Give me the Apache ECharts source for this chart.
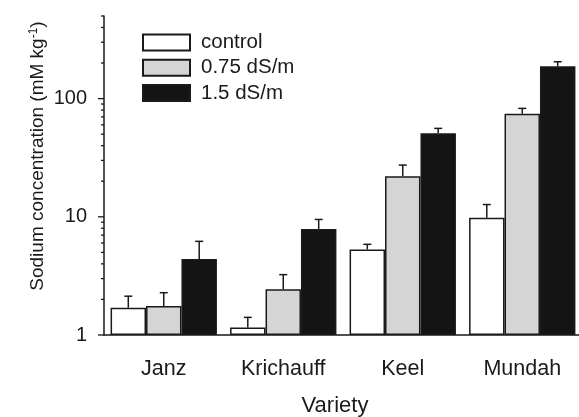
<!DOCTYPE html>
<html>
<head>
<meta charset="utf-8">
<script src="https://cdn.jsdelivr.net/npm/echarts@6/dist/echarts.min.js"></script>
<style>
html,body{margin:0;padding:0;background:#fff;}
#chart{width:579px;height:417px;}
</style>
</head>
<body>
<div id="chart"></div>
<script>
// 品种
var varieties = ['Janz', 'Krichauff', 'Keel', 'Mundah'];
var seriesNames = ['control', '0.75 dS/m', '1.5 dS/m'];
// 各处理的均值 (mM kg-1)
var controlValues = [1.70, 1.16, 5.3, 9.8];
var midValues     = [1.76, 2.44, 22, 74.6];
var highValues    = [4.4, 7.9, 51, 188];
// 误差(向上)
var controlErrors = [0.43, 0.25, 0.55, 2.9];
var midErrors     = [0.52, 0.80, 5.4, 8.1];
var highErrors    = [1.8, 1.6, 5, 17];
// 纵轴刻度
var yMajorTicks = [1, 10, 100];
var yMinorTicks = [2, 3, 4, 5, 6, 7, 8, 9, 20, 30, 40, 50, 60, 70, 80, 90, 200, 300, 400, 500];

var FONT = 'Liberation Sans';
var INK = '#1a1a1a';
var colors = ['#ffffff', '#d5d5d5', '#141414'];
var catGap = 0.11;   //!< barCategoryGap

var chart = echarts.init(document.getElementById('chart'), null, {renderer: 'canvas'});

// 误差线
function errorRender(k) {
	return function(params, api) {
		var cat = api.value(0);
		var val = api.value(1);
		var top = api.value(2);
		var band = api.coord([1, 1])[0] - api.coord([0, 1])[0];
		var bw = band * (1 - catGap) / 3;
		var x = api.coord([cat, val])[0] + (k - 1) * bw;
		var y0 = api.coord([cat, val])[1];
		var y1 = api.coord([cat, top])[1];
		var st = {stroke: INK, lineWidth: 1.5};
		return {
			type: 'group',
			children: [
				{type: 'line', shape: {x1: x, y1: y0, x2: x, y2: y1}, style: st},
				{type: 'line', shape: {x1: x - 4, y1: y1, x2: x + 4, y2: y1}, style: st}
			]
		};
	};
}

// 纵轴刻度(对数轴的次刻度自己画)
function tickRender(len) {
	return function(params, api) {
		var gx = params.coordSys.x;
		var y = api.coord([0, api.value(1)])[1];
		return {
			type: 'line',
			shape: {x1: gx - len, y1: y, x2: gx, y2: y},
			style: {stroke: INK, lineWidth: 1.3}
		};
	};
}

var means = [controlValues, midValues, highValues];
var errs = [controlErrors, midErrors, highErrors];
var series = [];
for (var k = 0; k < 3; ++k) {
	series.push({
		name: seriesNames[k],
		type: 'bar',
		data: means[k],
		barGap: '0%',
		barCategoryGap: (catGap * 100) + '%',
		itemStyle: {color: colors[k], borderColor: INK, borderWidth: 1.5}
	});
}
for (var k = 0; k < 3; ++k) {
	var d = [];
	for (var i = 0; i < varieties.length; ++i) d.push([i, means[k][i], means[k][i] + errs[k][i]]);
	series.push({type: 'custom', renderItem: errorRender(k), data: d, z: 3, silent: true});
}
series.push({type: 'custom', renderItem: tickRender(6), data: yMajorTicks.map(function(v){return [0, v];}), silent: true});
series.push({type: 'custom', renderItem: tickRender(3), data: yMinorTicks.map(function(v){return [0, v];}), silent: true});

var option = {
	animation: false,
	textStyle: {fontFamily: FONT},
	grid: {left: 104, right: -3, top: 16, bottom: 82, containLabel: false, outerBoundsMode: 'none'},
	legend: {
		orient: 'vertical',
		left: 142, top: 32,
		padding: 0,
		itemWidth: 47, itemHeight: 16, itemGap: 4.2,
		icon: 'rect',
		data: seriesNames,
		textStyle: {fontFamily: FONT, fontSize: 20.5, color: INK, padding: [0, 0, 0, 6]}
	},
	xAxis: {
		type: 'category',
		data: varieties,
		name: 'Variety',
		nameLocation: 'middle',
		nameGap: 60,
		nameMoveOverlap: false,
		nameTextStyle: {fontFamily: FONT, fontSize: 22, color: INK, padding: [0, 16, 0, 0]},
		axisLine: {lineStyle: {color: INK, width: 1.5}},
		axisTick: {alignWithLabel: true, length: 4, lineStyle: {color: INK, width: 1.3}},
		axisLabel: {fontFamily: FONT, fontSize: 21.5, color: INK, margin: 23}
	},
	yAxis: {
		type: 'log',
		logBase: 10,
		min: 1,
		max: 500,
		name: 'Sodium concentration (mM kg{sup|-1})',
		nameLocation: 'middle',
		nameGap: 56,
		nameMoveOverlap: false,
		nameTextStyle: {
			fontFamily: FONT, fontSize: 19, color: INK, padding: [0, 0, 0, 39],
			rich: {sup: {fontFamily: FONT, fontSize: 12, color: INK, verticalAlign: 'top', padding: [0, 0, 8, 0]}}
		},
		axisLine: {show: true, lineStyle: {color: INK, width: 1.5}},
		axisTick: {show: false},
		splitLine: {show: false},
		axisLabel: {
			fontFamily: FONT, fontSize: 20, color: INK, margin: 17,
			formatter: function(v) {
				var r = Math.round(v);
				return yMajorTicks.indexOf(r) >= 0 && Math.abs(v - r) < 1e-6 ? String(r) : '';
			}
		}
	},
	series: series
};
chart.setOption(option);
</script>
</body>
</html>
